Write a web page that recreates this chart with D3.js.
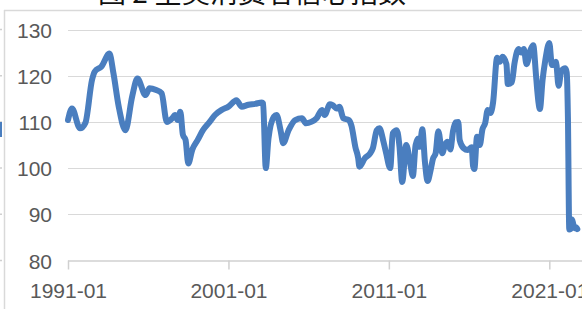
<!DOCTYPE html>
<html><head><meta charset="utf-8">
<script src="https://cdn.jsdelivr.net/npm/d3@7"></script>
<style>
html,body{margin:0;padding:0;background:#fff;overflow:hidden;}
svg{display:block;}
</style></head>
<body>
<script>
const titleText = "图 2 全美消费者信心指数";
const dates = ["1991-01","1991-04","1991-10","1992-02","1992-07","1992-09","1993-02","1993-08","1993-11","1994-03","1994-08","1995-01","1995-05","1995-11","1996-02","1996-07","1996-11","1997-03","1997-07","1997-09","1997-11","1998-01","1998-03","1998-05","1998-07","1998-10","1999-02","1999-06","1999-11","2000-03","2000-08","2001-01","2001-07","2001-11","2002-04","2002-09","2003-02","2003-03","2003-05","2003-07","2003-11","2004-01","2004-04","2004-06","2004-10","2005-03","2005-08","2005-11","2006-03","2006-07","2006-11","2007-01","2007-05","2007-07","2007-10","2007-12","2008-03","2008-07","2008-09","2008-12","2009-02","2009-03","2009-07","2009-11","2010-01","2010-04","2010-06","2010-09","2010-11","2011-02","2011-04","2011-07","2011-09","2011-11","2012-02","2012-05","2012-07","2012-09","2012-11","2012-12","2013-02","2013-04","2013-06","2013-08","2013-10","2013-12","2014-02","2014-05","2014-07","2014-09","2014-11","2015-01","2015-03","2015-05","2015-06","2015-09","2015-12","2016-03","2016-04","2016-05","2016-07","2016-09","2016-11","2017-01","2017-03","2017-05","2017-07","2017-10","2017-12","2018-02","2018-05","2018-06","2018-09","2018-11","2019-02","2019-04","2019-06","2019-08","2019-11","2020-01","2020-03","2020-04","2020-06","2020-08","2020-10","2021-01","2021-03","2021-06","2021-08","2021-10","2022-01","2022-02","2022-03","2022-04","2022-05","2022-06","2022-07","2022-08","2022-09","2022-10"];
const values = [110.4,112.9,108.6,109.8,119.1,120.9,122.0,124.8,120.5,113.3,108.2,115.5,119.4,115.8,117.3,116.9,116.2,110.0,110.8,111.5,110.4,112.2,107.2,106.1,101.0,104.0,106.1,108.2,110.0,111.5,112.6,113.3,114.7,113.3,113.7,113.9,114.2,114.0,100.0,106.4,111.1,111.5,108.2,105.4,108.2,110.4,110.8,109.7,110.0,110.8,112.6,111.5,113.8,113.6,112.9,113.3,110.8,110.4,109.2,104.5,102.2,100.3,102.1,103.2,104.3,108.2,108.6,105.7,103.2,100.0,107.5,108.2,104.6,97.0,105.0,101.0,98.3,105.0,106.4,104.6,108.4,101.4,97.2,99.2,102.0,103.2,108.0,103.2,105.0,105.7,104.0,108.0,109.9,110.0,106.1,104.3,103.9,104.5,100.5,99.8,106.8,105.0,108.4,109.7,112.6,111.9,114.2,123.9,123.0,124.1,122.5,118.2,118.6,122.7,125.8,125.0,125.8,122.5,125.6,126.6,120.5,116.9,112.8,119.1,123.3,127.1,122.3,123.0,117.8,121.0,121.6,120.7,111.0,86.7,86.8,88.9,87.9,87.0,87.2,86.8];
const yTicks = [80,90,100,110,120,130];
const xTickLabels = ["1991-01","2001-01","2011-01","2021-01"];

const W = 582, H = 309;
const parse = d3.timeParse("%Y-%m");
const data = dates.map((d,i)=>({date:parse(d), value:values[i]}));

const svg = d3.select("body").append("svg").attr("width",W).attr("height",H);

const x = d3.scaleTime().domain([parse("1991-01"), parse("2021-01")]).range([68, 549.3]);
const y = d3.scaleLinear().domain([80,130]).range([260.5, 29.5]);

// title (mostly cut off at top)
svg.append("text").attr("x",98).attr("y",3)
  .attr("font-family","'Noto Sans CJK SC'").attr("font-size",28).attr("fill","#111")
  .text(titleText);

// frame lines
svg.append("line").attr("x1",4).attr("x2",W).attr("y1",10.5).attr("y2",10.5).attr("stroke","#d9d9d9").attr("stroke-width",1.5);
svg.append("line").attr("x1",4.5).attr("x2",4.5).attr("y1",10).attr("y2",H).attr("stroke","#d9d9d9").attr("stroke-width",1.5);
// stubs of neighbouring chart at left edge
svg.selectAll("line.stub").data(yTicks).enter().append("line").attr("class","stub")
  .attr("x1",0).attr("x2",2).attr("y1",d=>y(d)).attr("y2",d=>y(d)).attr("stroke","#d0d0d0").attr("stroke-width",1.5);
svg.append("rect").attr("x",0).attr("y",122).attr("width",2).attr("height",15).attr("fill","#4a7ebf");

// gridlines
svg.append("g").selectAll("line").data(yTicks.filter(d=>d>80)).enter().append("line")
  .attr("x1",68).attr("x2",W).attr("y1",d=>Math.round(y(d))+0.5).attr("y2",d=>Math.round(y(d))+0.5)
  .attr("stroke","#d9d9d9").attr("stroke-width",1.2);

// y axis labels
const yAxis = d3.axisLeft(y).tickValues(yTicks).tickSize(0).tickPadding(0);
const gy = svg.append("g").attr("transform","translate(52,0)").call(yAxis);
gy.select(".domain").remove();
gy.selectAll("text").attr("font-family","'Liberation Sans', Arial, sans-serif").attr("font-size",21).attr("fill","#595959").attr("dy","0.36em");

// x axis
const xAxis = d3.axisBottom(x).tickValues(xTickLabels.map(parse)).tickFormat(d3.timeFormat("%Y-%m")).tickSizeInner(9).tickSizeOuter(0);
const gx = svg.append("g").attr("transform",`translate(0,${y(80)})`).call(xAxis);
gx.select(".domain").attr("d",`M68,0.5H${W}`).attr("stroke","#d0d0d0").attr("stroke-width",1.5);
gx.selectAll(".tick line").attr("stroke","#d0d0d0").attr("stroke-width",1.5);
gx.selectAll("text").attr("font-family","'Liberation Sans', Arial, sans-serif").attr("font-size",21).attr("fill","#595959").attr("y",37.5).attr("dy",0);

// line
const line = d3.line().x(d=>x(d.date)).y(d=>y(d.value)).curve(d3.curveMonotoneX);
svg.append("path").datum(data).attr("d",line).attr("fill","none")
  .attr("stroke","#4a7ebf").attr("stroke-width",6).attr("stroke-linejoin","round").attr("stroke-linecap","round");
</script>
</body></html>
